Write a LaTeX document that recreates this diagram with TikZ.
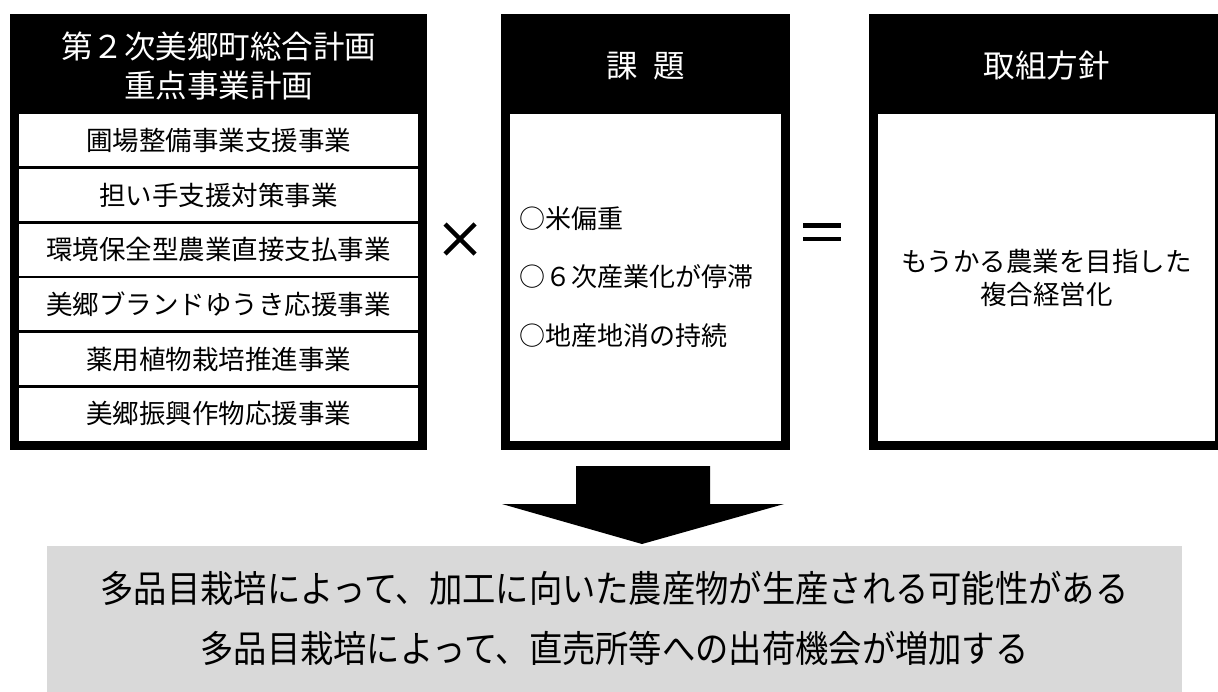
\documentclass[tikz,border=0pt]{standalone}
\usepackage{fontspec}
\newfontfamily\jp{Noto Sans CJK JP}
\definecolor{greybg}{HTML}{D9D9D9}
\tikzset{
  every node/.style={font=\jp, inner sep=0pt, outer sep=0pt},
  frame/.style={fill=black, draw=none},
  panel/.style={fill=white, draw=none},
  headtxt/.style={text=white, font=\jp\fontsize{31.5}{39}\selectfont, align=center},
  rowcell/.style={fill=white, minimum width=399pt, minimum height=52.5pt, font=\jp\fontsize{26.5}{30}\selectfont},
  bodytxt/.style={font=\jp\fontsize{26.5}{33}\selectfont, align=center},
  listtxt/.style={font=\jp\fontsize{26}{30}\selectfont, anchor=west},
  bigtxt/.style={font=\jp\fontsize{37}{44}\selectfont},
  blockarrow/.style={fill=black, draw=none},
  opline/.style={line width=4.5pt, draw=black}
}
\begin{document}
\begin{tikzpicture}[x=1pt,y=-1pt]
\useasboundingbox (0,0) rectangle (1218,691);
\clip (0,0) rectangle (1218,691);
% left frame
\fill[frame] (10,14) rectangle (427,450);
\node[headtxt] (lh) at (218.5,66) {第２次美郷町総合計画\\重点事業計画};
\fill[panel] (19,114) rectangle (418,441);
\fill[black] (19,112) rectangle (418,114);
\node[rowcell] (r1) at (218.5,140.3) {圃場整備事業支援事業};
\node[rowcell] (r2) at (218.5,195.0) {担い手支援対策事業};
\node[rowcell] (r3) at (218.5,249.7) {環境保全型農業直接支払事業};
\node[rowcell] (r4) at (218.5,304.3) {美郷ブランドゆうき応援事業};
\node[rowcell] (r5) at (218.5,359.0) {薬用植物栽培推進事業};
\node[rowcell] (r6) at (218.5,413.7) {美郷振興作物応援事業};
\foreach \yy in {167.6,222.3,277.0,331.6,386.3}
  \fill[black] (19,\yy-1.3) rectangle (418,\yy+1.3);
% times sign
\coordinate (tc) at (460,239);
\draw[opline] ([shift={(-15,-15)}]tc) -- ([shift={(15,15)}]tc);
\draw[opline] ([shift={(-15,15)}]tc) -- ([shift={(15,-15)}]tc);
% middle frame
\fill[frame] (501,14) rectangle (790,450);
\fill[panel] (510,114) rectangle (781,441);
\node[headtxt] (mh) at (645.5,66) {課\hspace{16pt}題};
\node[listtxt] (m1) at (519,219) {○米偏重};
\node[listtxt] (m2) at (519,277) {○６次産業化が停滞};
\node[listtxt] (m3) at (519,336) {○地産地消の持続};
% equals sign
\coordinate (ec) at (822,232);
\fill[black] ([shift={(-19,-9)}]ec) rectangle ([shift={(19,-4.5)}]ec);
\fill[black] ([shift={(19,4.5)}]ec) rectangle ([shift={(-19,9)}]ec);
% right frame
\fill[frame] (869,14) rectangle (1224,450);
\fill[panel] (878,114) rectangle (1215,441);
\node[headtxt] (rh) at (1046.5,66) {取組方針};
\node[bodytxt] (rb) at (1046.5,278) {もうかる農業を目指した\\複合経営化};
% block arrow
\coordinate (at) at (642,544);
\fill[blockarrow] (576,466) -- (710,466) -- (710,504) -- (784,504) -- (at) -- (502,504) -- (576,504) -- cycle;
% result box
\fill[greybg] (47,546) rectangle (1182,700);
\node[bigtxt] (b1) at (614.5,588) {\scalebox{0.9}[1]{多品目栽培によって、加工に向いた農産物が生産される可能性がある}};
\node[bigtxt] (b2) at (614.5,648) {\scalebox{0.9}[1]{多品目栽培によって、直売所等への出荷機会が増加する}};
\end{tikzpicture}
\end{document}
